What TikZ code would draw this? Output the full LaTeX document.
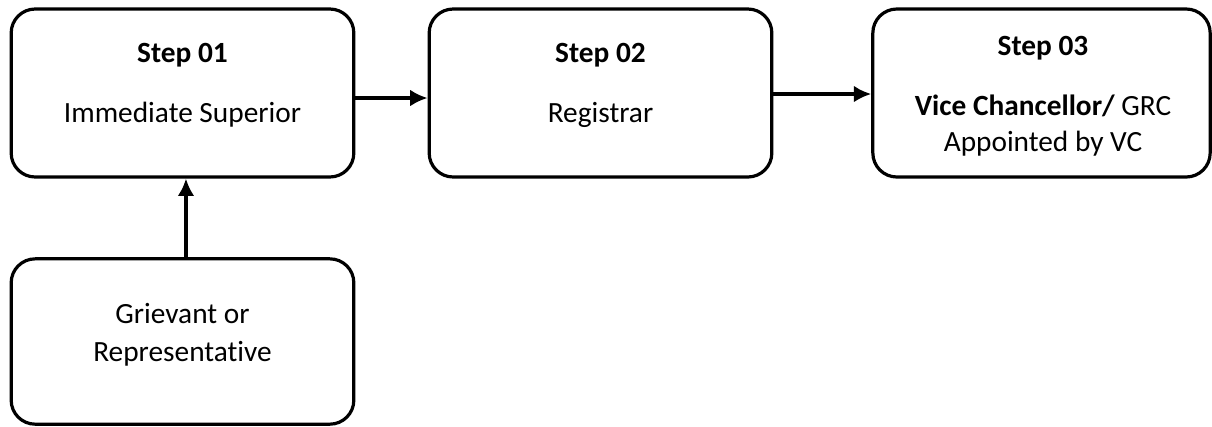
\documentclass[tikz,border=0pt]{standalone}
\usepackage{fontspec}
\setmainfont{Carlito}[Ligatures=NoCommon]
\usetikzlibrary{arrows.meta, positioning}
\tikzset{
    stepBox/.style={draw, rounded corners=18pt, line width=2.4pt, minimum width=257pt, minimum height=126pt, inner sep=0pt},
    stepText/.style={anchor=base, inner sep=0pt, font=\fontsize{22}{26}\selectfont},
    stepHead/.style={stepText, font=\fontsize{22}{26}\selectfont\bfseries},
    flowArrow/.style={-{Latex[length=13pt, width=12.5pt]}, line width=2.4pt},
}

\begin{document}
\begin{tikzpicture}[x=0.75pt, y=-0.75pt]
    \useasboundingbox (0,0) rectangle (1212,426);

    \node[stepBox] (step1) at (182.5, 93) {};
    \node[stepBox] (step2) at (600.5, 93) {};
    \node[stepBox, minimum width=253pt] (step3) at (1041.5, 93) {};
    \node[stepBox, minimum height=124pt] (griev) at (182.5, 341.5) {};

    \node[stepHead] (step1head) at (182.5, 62) {Step 01};
    \node[stepText] (step1name) at (182.5, 122) {Immediate Superior};

    \node[stepHead] (step2head) at (600.5, 62) {Step 02};
    \node[stepText] (step2name) at (600.5, 122) {Registrar};

    \node[stepHead] (step3head) at (1043, 55) {Step 03};
    \node[stepText] (step3name) at (1043, 115) {{\bfseries Vice Chancellor/} GRC};
    \node[stepText] (step3sub) at (1043, 151) {Appointed by VC};

    \node[stepText] (grievname) at (182.5, 323) {Grievant or};
    \node[stepText] (grievsub) at (182.5, 361) {Representative};

    \draw[flowArrow] ([yshift=-3.75pt]step1.east) -- ([yshift=-3.75pt]step2.west);
    \draw[flowArrow] ([yshift=-0.75pt]step2.east) -- ([yshift=-0.75pt]step3.west);
    \draw[flowArrow] ([xshift=2.6pt]griev.north) -- ([xshift=2.6pt]step1.south);

\end{tikzpicture}
\end{document}
